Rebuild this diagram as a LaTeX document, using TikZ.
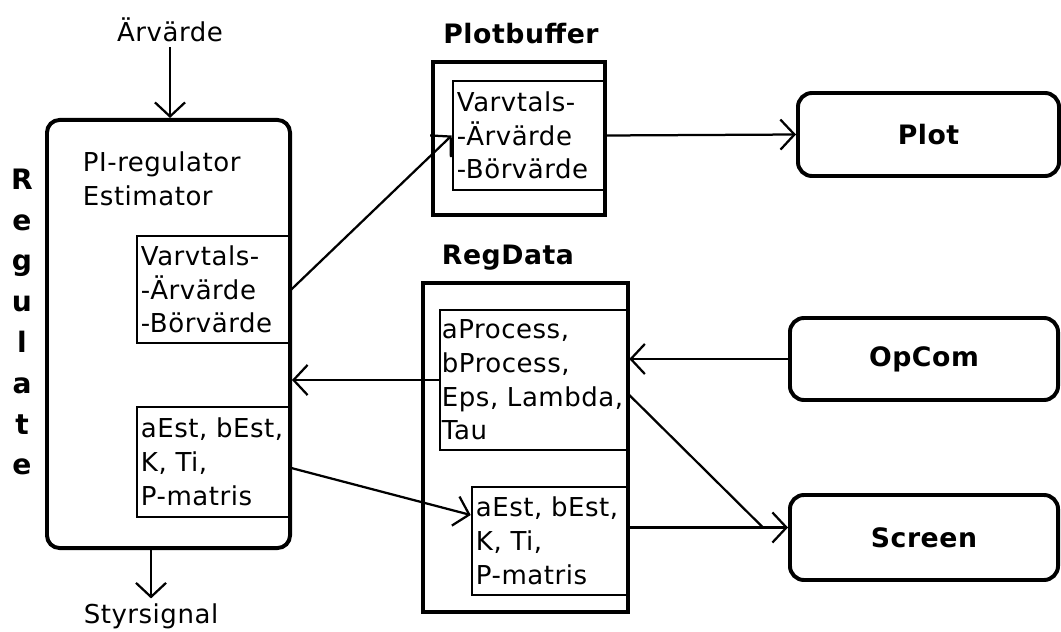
\documentclass[tikz,border=0pt]{standalone}
\usepackage{fontspec}
\setmainfont{DejaVu Sans}[LetterSpace=2]
\usetikzlibrary{arrows.meta}
\tikzset{
  lbl/.style={font=\fontsize{18.5}{24}\selectfont},
  lblbold/.style={font=\fontsize{19}{24}\selectfont\bfseries},
  blockbox/.style={draw, line width=2.8pt, rounded corners=9pt},
  procbox/.style={draw, line width=2.8pt, rounded corners=10pt, lblbold},
  outerbox/.style={draw, line width=3.4pt},
  innerbox/.style={draw, line width=1.8pt, lbl, align=left, inner xsep=0.1cm},
  flow/.style={-{Straight Barb[length=0.35cm,width=0.75cm]}, line width=1.6pt},
}
\begin{document}
\begin{tikzpicture}[x=0.025cm,y=-0.025cm]
  \useasboundingbox (0,0) rectangle (1061,632);
  % Regulate
  \node[font=\fontsize{20}{29}\selectfont\bfseries, align=center] (regname) at (22,322) {R\\e\\g\\u\\l\\a\\t\\e};
  \node[blockbox, minimum width=6.075cm, minimum height=10.7cm] (reg) at (168.5,334) {};
  \node[lbl, align=left, anchor=west] (regtxt) at (78,179) {PI-regulator\\Estimator};
  \node[innerbox, text width=3.625cm, minimum height=2.675cm] (regvar) at (213.5,289.5) {Varvtals-\\-Ärvärde\\-Börvärde};
  \node[innerbox, text width=3.625cm, minimum height=2.75cm] (regest) at (213.5,462) {aEst, bEst,\\K, Ti,\\P-matris};
  \node[lbl] (arv) at (170,30) {Ärvärde};
  \node[lbl] (styr) at (151,616) {Styrsignal};
  % Plotbuffer
  \node[lblbold] (pbtitle) at (521,34) {Plotbuffer};
  \node[outerbox, minimum width=4.3cm, minimum height=3.825cm] (pbout) at (519,138.5) {};
  \node[innerbox, text width=3.6cm, minimum height=2.725cm] (pbin) at (529,135.5) {Varvtals-\\-Ärvärde\\-Börvärde};
  % RegData
  \node[lblbold] (rdtitle) at (508,258) {RegData};
  \node[outerbox, minimum width=5.125cm, minimum height=8.225cm] (rdout) at (525.5,447.5) {};
  \node[innerbox, inner xsep=0.05cm, text width=4.6cm, minimum height=3.5cm] (rdin) at (534,380) {aProcess,\\bProcess,\\Eps, Lambda,\\Tau};
  \node[innerbox, text width=3.7cm, minimum height=2.7cm] (rdest) at (550,541) {aEst, bEst,\\K, Ti,\\P-matris};
  % Plot, OpCom, Screen
  \node[procbox, minimum width=6.525cm, minimum height=2.075cm] (plot) at (928.5,134.5) {Plot};
  \node[procbox, minimum width=6.7cm, minimum height=2.05cm] (opcom) at (924,359) {OpCom};
  \node[procbox, minimum width=6.7cm, minimum height=2.125cm] (screen) at (924,537.5) {Screen};
  % Connectors
  \draw[flow] (arv.south) -- (arv.south |- reg.north);
  \draw[flow] (styr.north |- reg.south) -- (styr.north);
  \draw[flow] (regvar.east) -- (pbin.west);
  \draw[flow] (pbin.east) -- (plot.west);
  \draw[flow] (rdin.west) -- (rdin.west -| reg.east);
  \draw[flow] ([yshift=-0.15cm]regest.east) -- ([yshift=0.65cm]rdest.west);
  \draw[flow] (opcom.west) -- (opcom.west -| rdin.east);
  \coordinate (scrin) at ([yshift=0.25cm]screen.west);
  \coordinate (scrjoin) at ([xshift=-0.625cm]scrin);
  \draw[flow] (scrin -| rdest.east) -- (scrin);
  \draw[line width=1.6pt] ([yshift=-0.375cm]rdin.east) -- (scrjoin);
\end{tikzpicture}
\end{document}
